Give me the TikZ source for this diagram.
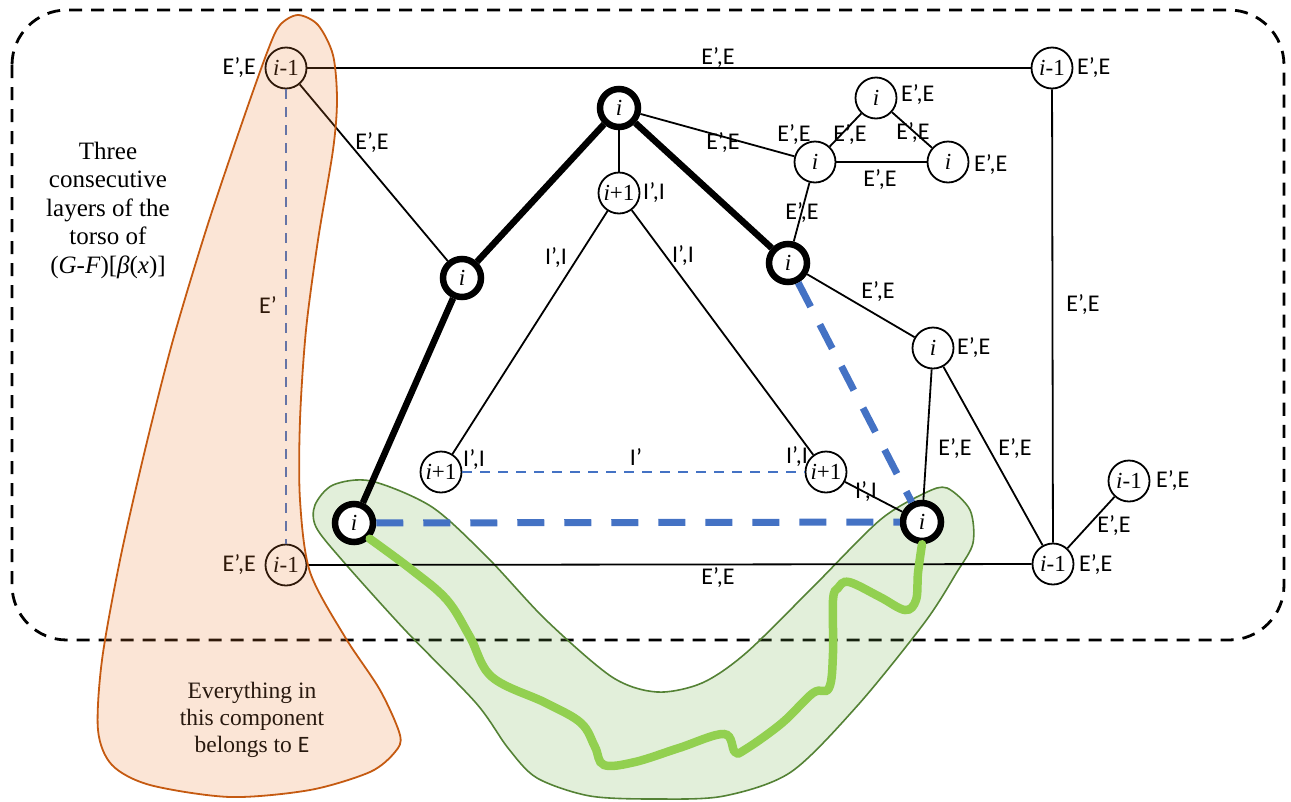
\documentclass[tikz,border=0pt]{standalone}
\usepackage{fontspec}
\setmainfont{Liberation Serif}
\newfontfamily\labfont{Carlito}
\usetikzlibrary{calc}
\definecolor{bluedash}{RGB}{68,114,196}
\definecolor{orfill}{RGB}{237,125,49}
\definecolor{orline}{RGB}{197,90,17}
\definecolor{grfill}{RGB}{112,173,71}
\definecolor{grline}{RGB}{84,130,53}
\definecolor{wavy}{RGB}{146,208,80}
\definecolor{darktext}{RGB}{40,25,15}
\tikzset{
  vtx/.style={circle, draw, line width=1.8pt, fill=white, minimum size=41pt, inner sep=0pt,
    font=\fontsize{23}{23}\selectfont},
  bvtx/.style={vtx, line width=6.5pt, minimum size=38pt},
  lbl/.style={font=\labfont\fontsize{24}{24}\selectfont, inner sep=0pt},
  thinedge/.style={line width=1.8pt},
  boldedge/.style={line width=6.5pt},
  bigdash/.style={draw=bluedash, line width=7pt, dash pattern=on 27pt off 20pt},
  smalldash/.style={draw=bluedash, line width=2pt, dash pattern=on 10pt off 8pt},
}
\begin{document}
\begin{tikzpicture}[x=1pt,y=-1pt]
\useasboundingbox (0,0) rectangle (1291,801);

% outer dashed frame of the three layers
\draw[line width=2.8pt, dash pattern=on 13pt off 9pt, rounded corners=55pt] (12,10) rectangle (1284,640);

% green component
\fill[grfill, opacity=0.2] plot[smooth cycle] coordinates {
  (315,505) (333,485) (371,481) (432,507) (488,558) (546,620) (612,677) (657,692)
  (702,683) (746,653) (813,587) (880,520) (925,493) (947,488) (970,510) (973,543)
  (957,572) (925,622) (858,705) (791,772) (724,796) (657,799) (590,796) (537,778)
  (508,748) (476,703) (405,630) (342,560) (316,527)};
\draw[grline, line width=1.6pt] plot[smooth cycle] coordinates {
  (315,505) (333,485) (371,481) (432,507) (488,558) (546,620) (612,677) (657,692)
  (702,683) (746,653) (813,587) (880,520) (925,493) (947,488) (970,510) (973,543)
  (957,572) (925,622) (858,705) (791,772) (724,796) (657,799) (590,796) (537,778)
  (508,748) (476,703) (405,630) (342,560) (316,527)};

% vertices
\node[vtx] (A) at (286,68) {\textit{i}-1};
\node[vtx] (B) at (1052,68) {\textit{i}-1};
\node[bvtx] (C) at (619,108) {\textit{i}};
\node[vtx] (H) at (619,193) {\textit{i}+1};
\node[vtx] (L) at (815,162) {\textit{i}};
\node[vtx] (M) at (876,98) {\textit{i}};
\node[vtx] (N) at (948,162) {\textit{i}};
\node[bvtx] (D) at (462,278) {\textit{i}};
\node[bvtx] (E) at (788,263) {\textit{i}};
\node[vtx] (P) at (933,348) {\textit{i}};
\node[vtx] (J) at (441,472) {\textit{i}+1};
\node[vtx] (K) at (826,472) {\textit{i}+1};
\node[vtx] (R) at (1129,481) {\textit{i}-1};
\node[bvtx] (F) at (354,523) {\textit{i}};
\node[bvtx] (G) at (922,522) {\textit{i}};
\node[vtx] (Q) at (1053,564) {\textit{i}-1};
\node[vtx] (S) at (286,565) {\textit{i}-1};

% edges
\draw[thinedge] (A) -- (B);
\draw[thinedge] (A) -- (D);
\draw[thinedge] (C) -- (H);
\draw[thinedge] (C) -- (L);
\draw[thinedge] (L) -- (M);
\draw[thinedge] (M) -- (N);
\draw[thinedge] (L) -- (N);
\draw[thinedge] (L) -- (E);
\draw[thinedge] (E) -- (P);
\draw[thinedge] (P) -- (G);
\draw[thinedge] (P) -- (Q);
\draw[thinedge] (B) -- (Q);
\draw[thinedge] (Q) -- (R);
\draw[thinedge] (S) -- (Q);
\draw[thinedge] (H) -- (J);
\draw[thinedge] (H) -- (K);
\draw[thinedge] (K) -- (G);
\draw[boldedge] (C) -- (D);
\draw[boldedge] (D) -- (F);
\draw[boldedge] (C) -- (E);
\draw[smalldash] (J) -- (K);
\draw[smalldash] (A) -- (S);
\draw[bigdash] (F) -- (G);
\draw[bigdash] (E) -- (G);

% green walk between the two bottom vertices
\draw[wavy, line width=8.5pt, line cap=round] plot[smooth, tension=0.6] coordinates {
  (F.south east) (412,570) (447,600) (470,637) (492,677) (546,703) (581,723) (595,747)
  (604,765) (635,762) (679,748) (724,734) (735,752) (746,749) (782,723) (813,693)
  (829,688) (833,653) (833,600) (838,588) (849,582) (880,597) (905,610) (916,600)
  (918,573) (G.south)};

% edge and vertex labels
\node[lbl, anchor=east] (lA) at (256,68) {E’,E};
\node[lbl] (lAB) at (718,58) {E’,E};
\node[lbl] (lAD) at (372,143) {E’,E};
\node[lbl, anchor=west] (lB) at (1077,68) {E’,E};
\node[lbl] (lCL) at (723,143) {E’,E};
\node[lbl] (lL1) at (794,135) {E’,E};
\node[lbl] (lL2) at (850,135) {E’,E};
\node[lbl, anchor=west] (lM) at (901,95) {E’,E};
\node[lbl] (lMN) at (913,133) {E’,E};
\node[lbl] (lLN) at (880,180) {E’,E};
\node[lbl, anchor=west] (lN) at (974,165) {E’,E};
\node[lbl] (lLE) at (802,213) {E’,E};
\node[lbl] (lEP) at (878,292) {E’,E};
\node[lbl, anchor=west] (lP) at (957,348) {E’,E};
\node[lbl] (lBQ) at (1083,305) {E’,E};
\node[lbl] (lPG) at (955,449) {E’,E};
\node[lbl] (lPQ) at (1015,449) {E’,E};
\node[lbl, anchor=west] (lR) at (1156,481) {E’,E};
\node[lbl] (lQR) at (1114,526) {E’,E};
\node[lbl, anchor=west] (lQ) at (1079,565) {E’,E};
\node[lbl] (lSQ) at (718,578) {E’,E};
\node[lbl, anchor=east] (lS) at (256,565) {E’,E};
\node[lbl, anchor=west] (lH) at (643,193) {I’,I};
\node[lbl] (lHJ) at (556,258) {I’,I};
\node[lbl] (lHK) at (683,256) {I’,I};
\node[lbl, anchor=west] (lJ) at (463,460) {I’,I};
\node[lbl] (lJK) at (636,457) {I’};
\node[lbl, anchor=east] (lK) at (808,457) {I’,I};
\node[lbl] (lKG) at (866,492) {I’,I};
\node[lbl] (lAS) at (268,305) {E’};

% caption of the dashed frame
\node[align=center, font=\fontsize{25}{28.5}\selectfont] (cap) at (108,210)
  {Three\\consecutive\\layers of the\\torso of\\(\textit{G}-\textit{F})[\textit{β}(\textit{x})]};

% orange component, laid over what it contains
\fill[orfill, opacity=0.2] plot[smooth cycle] coordinates {
  (268,50) (243,120) (207,227) (173,340) (145,450) (120,560) (102,660) (98,730)
  (112,765) (150,785) (230,797) (310,790) (370,772) (395,752) (400,735) (380,690)
  (345,637) (310,572) (300,500) (300,420) (306,330) (318,240) (333,150) (337,100)
  (333,55) (318,25) (298,15) (280,25)};
\draw[orline, line width=1.8pt] plot[smooth cycle] coordinates {
  (268,50) (243,120) (207,227) (173,340) (145,450) (120,560) (102,660) (98,730)
  (112,765) (150,785) (230,797) (310,790) (370,772) (395,752) (400,735) (380,690)
  (345,637) (310,572) (300,500) (300,420) (306,330) (318,240) (333,150) (337,100)
  (333,55) (318,25) (298,15) (280,25)};
\node[align=center, text=darktext, font=\fontsize{23.5}{26.7}\selectfont] (note) at (252,720)
  {Everything in\\this component\\belongs to {\labfont E}};
\end{tikzpicture}
\end{document}
